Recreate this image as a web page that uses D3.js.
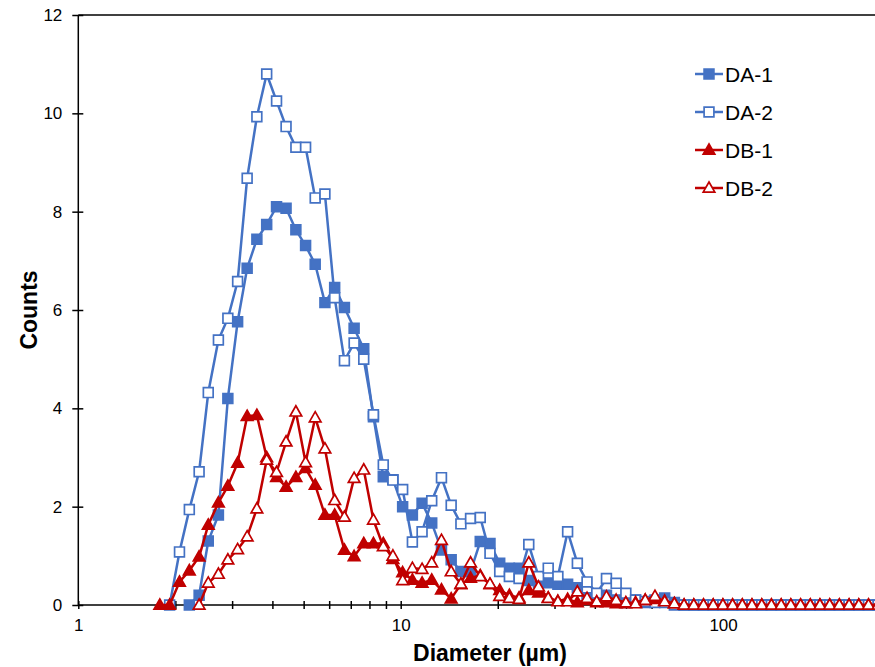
<!DOCTYPE html>
<html>
<head>
<meta charset="utf-8">
<script src="https://cdn.jsdelivr.net/npm/d3@7"></script>
<style>
  html, body { margin: 0; padding: 0; background: #fff; }
  svg { display: block; }
  text { font-family: "Liberation Sans", Arial, sans-serif; fill: #000; }
</style>
</head>
<body>
<svg id="chart" width="875" height="667"></svg>
<script>
// Particle diameter channels (µm)
const diameters = [
  1.79, 1.92, 2.06, 2.21, 2.37, 2.53, 2.72, 2.91, 3.12, 3.34,
  3.58, 3.84, 4.12, 4.41, 4.73, 5.07, 5.43, 5.82, 6.24, 6.69,
  7.17, 7.68, 8.23, 8.83, 9.46, 10.14, 10.87, 11.65, 12.48, 13.38,
  14.34, 15.37, 16.47, 17.65, 18.92, 20.28, 21.73, 23.29, 24.96, 26.76,
  28.68, 30.73, 32.94, 35.31, 37.84, 40.56, 43.47, 46.59, 49.93, 53.51,
  57.35, 61.47, 65.88, 70.61, 75.68, 81.11, 86.93, 93.17, 99.86, 107.0,
  114.7, 122.9, 131.8, 141.2, 151.4, 162.2, 173.9, 186.4, 199.7, 214.1,
  229.4, 245.9, 263.5, 282.5, 302.7, 324.4
];

const seriesNames = ["DA-1", "DA-2", "DB-1", "DB-2"];

// Counts per channel (null = channel not reported)
const countsDA1 = [
  null, null, null, 0, 0.2, 1.3, 1.83, 4.2, 5.76, 6.85,
  7.44, 7.74, 8.1, 8.07, 7.63, 7.31, 6.93, 6.15, 6.46, 6.05,
  5.63, 5.21, 3.83, 2.61, 2.55, 2.0, 1.83, 2.07, 1.67, 1.12,
  0.92, 0.68, 0.68, 1.29, 1.25, 0.85, 0.75, 0.75, 0.5, 0.45,
  0.45, 0.42, 0.42, 0.35, 0.15, 0.12, 0.2, 0.1, 0.05, 0.1,
  0.05, 0.1, 0.14, 0.05, 0, 0, 0, 0, 0, 0,
  0, 0, 0, 0, 0, 0, 0, 0, 0, 0,
  0, 0, 0, 0, 0, 0
];
const countsDA2 = [
  null, 0, 1.08, 1.94, 2.71, 4.32, 5.39, 5.83, 6.58, 8.68,
  9.93, 10.8, 10.25, 9.73, 9.31, 9.31, 8.28, 8.36, 6.25, 4.97,
  5.33, 5.0, 3.87, 2.85, 2.54, 2.35, 1.28, 1.49, 2.12, 2.59,
  2.03, 1.65, 1.76, 1.78, 1.05, 0.68, 0.58, 0.54, 1.23, 0.58,
  0.75, 0.58, 1.49, 0.85, 0.47, 0.24, 0.54, 0.44, 0.24, 0.1,
  0.07, 0.05, 0.05, 0, 0, 0, 0, 0, 0, 0,
  0, 0, 0, 0, 0, 0, 0, 0, 0, 0,
  0, 0, 0, 0, 0, 0
];
const countsDB1 = [
  0, 0, 0.47, 0.7, 0.98, 1.63, 2.08, 2.42, 2.89, 3.84,
  3.86, 3.0, 2.6, 2.4, 2.6, 2.78, 2.44, 1.83, 1.83, 1.12,
  0.99, 1.25, 1.25, 1.25, 0.93, 0.66, 0.51, 0.45, 0.51, 0.31,
  0.13, 0.42, 0.55, 0.6, 0.42, 0.3, 0.2, 0.15, 0.3, 0.25,
  0.15, 0.08, 0.12, 0.05, 0.1, 0.05, 0.05, 0.03, 0.03, 0.05,
  0.1, 0.12, 0.08, 0.03, 0, 0, 0, 0, 0, 0,
  0, 0, 0, 0, 0, 0, 0, 0, 0, 0,
  0, 0, 0, 0, 0, 0
];
const countsDB2 = [
  null, null, null, null, 0, 0.45, 0.63, 0.92, 1.13, 1.39,
  1.96, 2.95, 2.7, 3.32, 3.93, 2.9, 3.81, 3.18, 2.13, 1.79,
  2.58, 2.75, 1.73, 1.19, 1.0, 0.5, 0.75, 0.73, 0.86, 1.32,
  0.68, 0.43, 0.86, 0.58, 0.43, 0.18, 0.14, 0.12, 0.86, 0.37,
  0.14, 0.07, 0.07, 0.27, 0.14, 0.07, 0.17, 0.1, 0.05, 0.03,
  0.1, 0.18, 0.07, 0.03, 0, 0, 0, 0, 0, 0,
  0, 0, 0, 0, 0, 0, 0, 0, 0, 0,
  0, 0, 0, 0, 0, 0
];

const xTickValues = [1, 10, 100];
const yTickValues = [0, 2, 4, 6, 8, 10, 12];

const BLUE = "#4472C4";
const RED = "#C00000";

const series = [
  { name: seriesNames[0], values: countsDA1, color: BLUE, shape: "square", filled: true },
  { name: seriesNames[1], values: countsDA2, color: BLUE, shape: "square", filled: false },
  { name: seriesNames[2], values: countsDB1, color: RED, shape: "triangle", filled: true },
  { name: seriesNames[3], values: countsDB2, color: RED, shape: "triangle", filled: false }
];

const svg = d3.select("#chart");
const W = 875, H = 667;
const plotLeft = 78.3, plotTop = 15, plotBottom = 605;
const decade = 322.4;

const x = d3.scaleLog().domain([1, 1000]).range([plotLeft, plotLeft + 3 * decade]);
const y = d3.scaleLinear().domain([0, 12]).range([plotBottom, plotTop]);

// Clip region for the plotting area
svg.append("defs").append("clipPath").attr("id", "plotclip")
  .append("rect").attr("x", plotLeft - 8).attr("y", 0).attr("width", W).attr("height", plotBottom + 10);

// Frame top line
svg.append("line")
  .attr("x1", plotLeft).attr("x2", W).attr("y1", plotTop).attr("y2", plotTop)
  .attr("stroke", "#000").attr("stroke-width", 1.5);

// X axis: major and minor ticks crossing the axis line
const minorTicks = [];
[1, 10, 100].forEach(d => { for (let m = 2; m <= 9; m++) minorTicks.push(d * m); });

const xAxisG = svg.append("g").attr("transform", `translate(0,${plotBottom})`);
xAxisG.call(d3.axisBottom(x).tickValues(xTickValues).tickFormat(d3.format("d")).tickSize(4).tickPadding(10));
const xMinorG = svg.append("g").attr("transform", `translate(0,${plotBottom})`);
xMinorG.call(d3.axisBottom(x).tickValues(minorTicks).tickFormat("").tickSize(4));
[xAxisG, xMinorG].forEach(g => {
  g.select(".domain").remove();
  g.selectAll(".tick line").attr("y1", -4).attr("y2", 4).attr("stroke", "#000").attr("stroke-width", 1.5);
});
xAxisG.selectAll(".tick text")
  .attr("font-size", 17).attr("font-family", "Liberation Sans, Arial, sans-serif").attr("fill", "#333");
svg.append("line")
  .attr("x1", plotLeft).attr("x2", W).attr("y1", plotBottom).attr("y2", plotBottom)
  .attr("stroke", "#000").attr("stroke-width", 1.5);

// Y axis
const yAxisG = svg.append("g").attr("transform", `translate(${plotLeft},0)`);
yAxisG.call(d3.axisLeft(y).tickValues(yTickValues).tickSize(5).tickPadding(11));
yAxisG.select(".domain").remove();
yAxisG.selectAll(".tick line").attr("x1", -6).attr("x2", 5).attr("stroke", "#000").attr("stroke-width", 1.5);
yAxisG.selectAll(".tick text")
  .attr("font-size", 17).attr("font-family", "Liberation Sans, Arial, sans-serif").attr("fill", "#333");
svg.append("line")
  .attr("x1", plotLeft).attr("x2", plotLeft).attr("y1", plotTop).attr("y2", plotBottom)
  .attr("stroke", "#000").attr("stroke-width", 1.5);

// Axis titles
svg.append("text")
  .attr("x", 490).attr("y", 661)
  .attr("text-anchor", "middle")
  .attr("font-size", 23).attr("font-weight", "bold")
  .text("Diameter (µm)");
svg.append("text")
  .attr("transform", "translate(37,310) rotate(-90)")
  .attr("text-anchor", "middle")
  .attr("font-size", 23).attr("font-weight", "bold")
  .text("Counts");

// Marker shapes
const squareSym = d3.symbol().type(d3.symbolSquare).size(96);
const triPath = "M0,-6L5.8,4.2L-5.8,4.2Z";

function drawMarker(g, shape, filled, color) {
  if (shape === "square") {
    g.append("path").attr("d", squareSym())
      .attr("fill", filled ? color : "#fff")
      .attr("stroke", color).attr("stroke-width", 1.7);
  } else {
    g.append("path").attr("d", triPath)
      .attr("fill", filled ? color : "#fff")
      .attr("stroke", color).attr("stroke-width", 1.7)
      .attr("stroke-linejoin", "miter");
  }
}

const plot = svg.append("g").attr("clip-path", "url(#plotclip)");
const line = d3.line()
  .x(d => x(d.d))
  .y(d => y(d.v))
  .curve(d3.curveLinear);

series.forEach(s => {
  const pts = diameters.map((d, i) => ({ d, v: s.values[i] })).filter(p => p.v !== null);
  const g = plot.append("g");
  g.append("path").datum(pts)
    .attr("d", line)
    .attr("fill", "none")
    .attr("stroke", s.color)
    .attr("stroke-width", 2.5)
    .attr("stroke-linejoin", "round");
  g.selectAll("g.mk").data(pts).enter().append("g")
    .attr("class", "mk")
    .attr("transform", p => `translate(${x(p.d)},${y(p.v)})`)
    .each(function () { drawMarker(d3.select(this), s.shape, s.filled, s.color); });
});

// Legend
const legendY = [74, 112, 150, 188];
const legend = svg.append("g");
series.forEach((s, i) => {
  const g = legend.append("g").attr("transform", `translate(0,${legendY[i]})`);
  g.append("line").attr("x1", 695).attr("x2", 723).attr("y1", 0).attr("y2", 0)
    .attr("stroke", s.color).attr("stroke-width", 2.5);
  const m = g.append("g").attr("transform", "translate(709,0)");
  drawMarker(m, s.shape, s.filled, s.color);
  g.append("text").attr("x", 725).attr("y", 0).attr("dy", "0.36em")
    .attr("font-size", 21).text(s.name);
});
</script>
</body>
</html>
